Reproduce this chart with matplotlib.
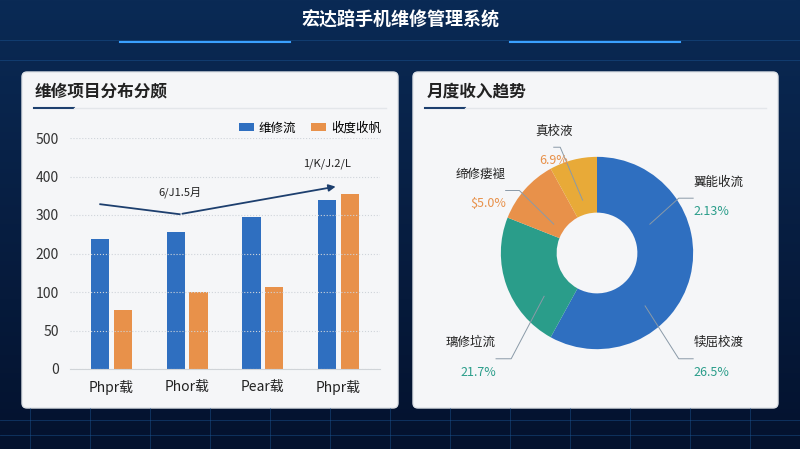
import numpy as np
import matplotlib.pyplot as plt
from matplotlib.patches import FancyBboxPatch

plt.rcParams['font.family'] = ['Noto Sans CJK SC', 'DejaVu Sans']

# 数据
categories = ['Phpr载', 'Phor载', 'Pear载', 'Phpr载']
repair_vals = [238, 256, 296, 339]
income_vals = [77, 101, 114, 355]
y_ticks = [0, 50, 100, 200, 300, 400, 500]
legend_names = ['维修流', '收度收帆']

pie_names = ['翼能收流', '璃修垃流', '缔修瘘褪', '真校液']
pie_shares = [58, 23, 11, 8]
pie_texts = ['2.13%', '21.7%', '$5.0%', '6.9%']
pie_bottom_name = '犊屈校渡'
pie_bottom_text = '26.5%'

c_blue, c_orange, c_teal, c_yellow = '#2f6fc0', '#e8914a', '#2a9d8a', '#e8aa38'

fig = plt.figure(figsize=(8, 4.49), dpi=100)
W, H = 800, 449

# 背景
bg = fig.add_axes([0, 0, 1, 1])
grad = np.linspace(0, 1, 200)[:, None]
bg.imshow(grad, cmap=plt.matplotlib.colors.LinearSegmentedColormap.from_list('b', ['#0a2a55', '#04122e']),
          aspect='auto', extent=[0, W, H, 0])
for yy in [40, 60, 420, 435]:
    bg.plot([0, W], [yy, yy], color='#1e5a9a', lw=0.6, alpha=0.5)
for xx in range(30, 800, 60):
    bg.plot([xx, xx], [408, 449], color='#1e5a9a', lw=0.6, alpha=0.5)
bg.plot([120, 290], [42, 42], color='#3aa0ff', lw=1.5)
bg.plot([510, 680], [42, 42], color='#3aa0ff', lw=1.5)
bg.text(400, 20, '宏达踣手机维修管理系统', color='white', fontsize=13, ha='center', va='center', weight='bold')
for x0, x1 in [(22, 398), (413, 778)]:
    bg.add_patch(FancyBboxPatch((x0, 72), x1 - x0, 336, boxstyle='round,pad=0,rounding_size=5',
                                fc='#f5f6f8', ec='#dfe3e8'))
    bg.plot([x0 + 12, x0 + 52], [108, 108], color='#1d3f6e', lw=1.5)
    bg.plot([x0 + 52, x1 - 12], [108, 108], color='#e3e6ea', lw=1)
bg.text(35, 91, '维修项目分布分颇', fontsize=12, weight='bold', va='center', color='#222')
bg.text(427, 91, '月度收入趋势', fontsize=12, weight='bold', va='center', color='#222')
bg.set_xlim(0, W)
bg.set_ylim(H, 0)
bg.axis('off')

# 柱状图 (非均匀刻度)
pos = np.arange(len(y_ticks))
fwd = lambda v: np.interp(v, y_ticks, pos)
inv = lambda p: np.interp(p, pos, y_ticks)
ax = fig.add_axes([70 / W, 1 - 369 / H, 310 / W, 231 / H])
ax.set_yscale('function', functions=(fwd, inv))
x = np.arange(len(categories))
ax.bar(x - 0.15, repair_vals, 0.24, color=c_blue, label=legend_names[0])
ax.bar(x + 0.15, income_vals, 0.24, color=c_orange, label=legend_names[1])
ax.set_ylim(0, 500)
ax.set_yticks(y_ticks)
ax.set_yticklabels([str(v) for v in y_ticks], fontsize=10, color='#333')
ax.set_xticks(x)
ax.set_xticklabels(categories, fontsize=10, color='#222')
ax.set_xlim(-0.55, 3.55)
ax.grid(axis='y', ls=':', color='#cfd4da')
ax.set_facecolor('none')
for s in ['top', 'right', 'left']:
    ax.spines[s].set_visible(False)
ax.spines['bottom'].set_color('#d0d4d8')
ax.tick_params(length=0, pad=8)
ax.legend(loc='upper right', bbox_to_anchor=(1.04, 1.12), ncol=2, frameon=False, fontsize=9,
          handlelength=1.2, handleheight=0.6, columnspacing=1.2, handletextpad=0.4)
ax.plot([-0.15, 0.9], [328, 302], color='#1d3f6e', lw=1.3)
ax.annotate('', xy=(3.0, 375), xytext=(0.9, 302),
            arrowprops=dict(arrowstyle='-|>', color='#1d3f6e', lw=1.3))
ax.text(0.9, 350, '6/J1.5月', ha='center', fontsize=8, color='#222')
ax.text(2.85, 425, '1/K/J.2/L', ha='center', fontsize=8, color='#222')

# 环形图
ax2 = fig.add_axes([472 / W, 1 - 378 / H, 250 / W, 250 / H])
wedges, _ = ax2.pie(pie_shares, colors=[c_blue, c_teal, c_orange, c_yellow], startangle=90,
                    counterclock=False, wedgeprops=dict(width=0.58, edgecolor='none'))
ax2.set_aspect('equal')
lab = [(1.0, 0.62, pie_names[0], pie_texts[0], c_teal, 'left'),
       (-1.05, -1.05, pie_names[1], pie_texts[1], c_teal, 'right'),
       (-0.95, 0.7, pie_names[2], pie_texts[2], c_orange, 'right'),
       (-0.45, 1.15, pie_names[3], pie_texts[3], c_orange, 'center'),
       (1.0, -1.05, pie_bottom_name, pie_bottom_text, c_teal, 'left')]
anchors = [(0.55, 0.3), (-0.55, -0.45), (-0.45, 0.3), (-0.15, 0.55), (0.5, -0.55)]
for (lx, ly, n, t, c, ha), (axx, ayy) in zip(lab, anchors):
    ax2.plot([axx, lx * 0.85, lx], [ayy, ly - 0.05, ly - 0.05], color='#8a9aa8', lw=0.7)
    ax2.text(lx, ly + 0.05, n, ha=ha, fontsize=9, color='#222', va='bottom')
    ax2.text(lx, ly - 0.12, t, ha=ha, fontsize=9, color=c, va='top')
ax2.set_xlim(-1.3, 1.3)
ax2.set_ylim(-1.3, 1.3)

fig.savefig('out.png', dpi=100)
